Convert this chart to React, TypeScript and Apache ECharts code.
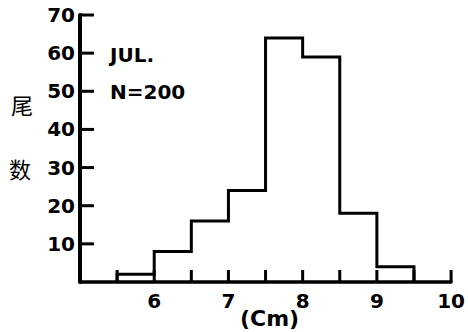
import React, { useEffect, useRef } from "react";
import * as echarts from "echarts";

const binStarts = [5.5, 6, 6.5, 7, 7.5, 8, 8.5, 9];
const binEnds = [6, 6.5, 7, 7.5, 8, 8.5, 9, 9.5];
const counts = [2, 8, 16, 24, 64, 59, 18, 4];
const xTickValues = [5.5, 6, 6.5, 7, 7.5, 8, 8.5, 9, 9.5, 10];
const yTickValues = [10, 20, 30, 40, 50, 60, 70];
const monthLabel = "JUL.";
const sampleLabel = "N=200";
const yNameChars = ["尾", "数"];
const xUnit = "(Cm)";

const FONT = "DejaVu Sans";

export default function App() {
  const ref = useRef<HTMLDivElement>(null);
  useEffect(() => {
    if (!ref.current) return;
    const chart = echarts.init(ref.current, null, { renderer: "svg" });
    // step outline of the histogram (outer contour only)
    const outline: number[][] = [[binStarts[0], 0]];
    binStarts.forEach((s, i) => {
      outline.push([s, counts[i]]);
      outline.push([binEnds[i], counts[i]]);
    });
    outline.push([binEnds[binEnds.length - 1], 0]);

    const tickData = [
      ...xTickValues.map((v) => [v, 0, 0]),
      ...yTickValues.map((v) => [5, v, 1]),
    ];

    chart.setOption({
      animation: false,
      backgroundColor: "#ffffff",
      grid: { left: 80, right: 8, top: 15, bottom: 50 },
      xAxis: {
        type: "value",
        min: 5,
        max: 10,
        interval: 0.5,
        splitLine: { show: false },
        axisLine: { show: true, lineStyle: { color: "#000", width: 3.5 } },
        axisTick: { show: false },
        axisLabel: {
          color: "#000",
          fontFamily: FONT,
          fontWeight: "bold",
          fontSize: 20,
          margin: 9,
          formatter: (v: number) => (Number.isInteger(v) && v > 5 ? String(v) : ""),
        },
      },
      yAxis: {
        type: "value",
        min: 0,
        max: 70,
        interval: 10,
        splitLine: { show: false },
        axisLine: { show: true, lineStyle: { color: "#000", width: 4 } },
        axisTick: { show: false },
        axisLabel: {
          color: "#000",
          fontFamily: FONT,
          fontWeight: "bold",
          fontSize: 20,
          margin: 5,
          formatter: (v: number) => (v === 0 ? "" : String(v)),
        },
      },
      series: [
        {
          type: "line",
          data: outline,
          showSymbol: false,
          symbol: "none",
          lineStyle: { color: "#000", width: 3, join: "miter" },
        },
        {
          type: "custom",
          data: tickData,
          encode: { x: 0, y: 1 },
          renderItem: (params: any, api: any) => {
            const p = api.coord([api.value(0), api.value(1)]);
            const isY = api.value(2) === 1;
            return {
              type: "line",
              shape: isY
                ? { x1: p[0], y1: p[1], x2: p[0] + 14, y2: p[1] }
                : { x1: p[0], y1: p[1], x2: p[0], y2: p[1] - 12 },
              style: { stroke: "#000", lineWidth: 3 },
            };
          },
        },
      ],
      graphic: [
        { type: "text", left: 110, top: 45, style: { text: monthLabel, font: `bold 20px "${FONT}"`, fill: "#000" } },
        { type: "text", left: 110, top: 82, style: { text: sampleLabel, font: `bold 20px "${FONT}"`, fill: "#000" } },
        { type: "text", left: 11, top: 93, style: { text: yNameChars[0], font: `22px "Noto Sans CJK SC"`, fill: "#000" } },
        { type: "text", left: 9, top: 157, style: { text: yNameChars[1], font: `22px "Noto Sans CJK SC"`, fill: "#000" } },
        { type: "text", left: 240, top: 307, style: { text: xUnit, font: `bold 22px "${FONT}"`, fill: "#000" } },
      ],
    });
    return () => chart.dispose();
  }, []);
  return (
    <div
      ref={ref}
      style={{ position: "fixed", left: 0, top: 0, width: 468, height: 332, background: "#fff" }}
    />
  );
}
